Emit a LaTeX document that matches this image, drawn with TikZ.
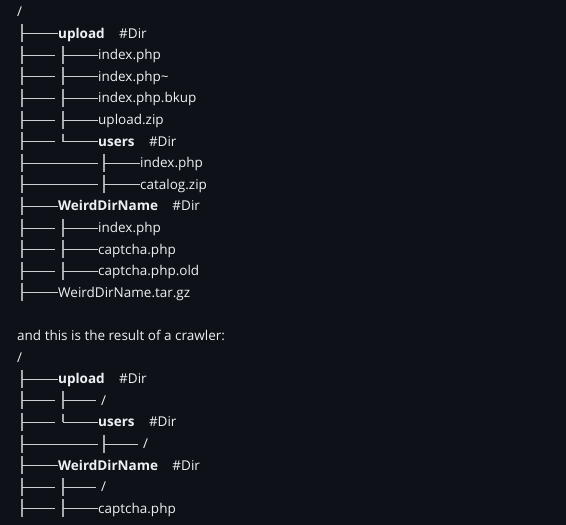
\documentclass[tikz,border=0pt]{standalone}
\usepackage{fontspec}
\setmainfont{Open Sans}
\usetikzlibrary{positioning}
\definecolor{pagebg}{HTML}{0E1117}
\definecolor{fg}{HTML}{EEF1F4}
\definecolor{tickgray}{HTML}{A5ABAF}
\definecolor{bargray}{HTML}{CBCFD3}
\tikzset{
  entry/.style={anchor=west, inner sep=0pt, text height=12pt, text depth=3pt, text=fg, font=\fontsize{13.5}{15}\selectfont},
  direntry/.style={entry, font=\fontsize{13.5}{15}\selectfont\bfseries},
  treetick/.style={draw=tickgray, line width=2pt},
  treebar/.style={draw=bargray, line width=1pt},
}
\newcommand{\ry}[1]{12+21.6*#1}

\begin{document}
\begin{tikzpicture}[x=1pt,y=-1pt]
\fill[pagebg] (0,0) rectangle (566,525);
\useasboundingbox (0,0) rectangle (566,525);

% outer ticks, one per tree row
\foreach \r in {1,2,3,4,5,6,7,8,9,10,11,12,13,17,18,19,20,21,22,23} {
	\draw[treetick] (21.5,{\ry{\r}-9.5}) -- (21.5,{\ry{\r}+8.5});
}
% second column ticks
\foreach \r in {2,3,4,5,10,11,12,18,22,23} {
	\draw[treetick] (63,{\ry{\r}-9.5}) -- (63,{\ry{\r}+8.5});
	\draw[treebar] (21.5,{\ry{\r}}) -- (55,{\ry{\r}});
}
\foreach \r in {6,19} {
	\draw[treetick] (63,{\ry{\r}-8}) -- (63,{\ry{\r}});
	\draw[treebar] (21.5,{\ry{\r}}) -- (55,{\ry{\r}});
}
% third column ticks
\foreach \r in {7,8,20} {
	\draw[treetick] (104,{\ry{\r}-9.5}) -- (104,{\ry{\r}+8.5});
	\draw[treebar] (21.5,{\ry{\r}}) -- (98,{\ry{\r}});
}

% the real tree
\node[entry] (root) at (17,{\ry{0}}) {/};
\node[direntry] (upload) at (58,{\ry{1}}) {upload};
\node[entry, right=14pt of upload] (uploadtag) {\#Dir};
\node[entry] (idx) at (98,{\ry{2}}) {index.php};
\node[entry] (idxtilde) at (98,{\ry{3}}) {index.php\char`~};
\node[entry] (idxbkup) at (98,{\ry{4}}) {index.php.bkup};
\node[entry] (uploadzip) at (98,{\ry{5}}) {upload.zip};
\node[direntry] (users) at (98,{\ry{6}}) {users};
\node[entry, right=14pt of users] (userstag) {\#Dir};
\node[entry] (usersidx) at (140,{\ry{7}}) {index.php};
\node[entry] (catalog) at (140,{\ry{8}}) {catalog.zip};
\node[direntry] (weird) at (58,{\ry{9}}) {WeirdDirName};
\node[entry, right=14pt of weird] (weirdtag) {\#Dir};
\node[entry] (weirdidx) at (98,{\ry{10}}) {index.php};
\node[entry] (captcha) at (98,{\ry{11}}) {captcha.php};
\node[entry] (captchaold) at (98,{\ry{12}}) {captcha.php.old};
\node[entry] (tarball) at (58,{\ry{13}}) {WeirdDirName.tar.gz};

\draw[treebar] (21.5,{\ry{1}}) -- (upload.west);
\draw[treebar] (63,{\ry{2}}) -- (idx.west);
\draw[treebar] (63,{\ry{3}}) -- (idxtilde.west);
\draw[treebar] (63,{\ry{4}}) -- (idxbkup.west);
\draw[treebar] (63,{\ry{5}}) -- (uploadzip.west);
\draw[treebar] (63,{\ry{6}}) -- (users.west);
\draw[treebar] (104,{\ry{7}}) -- (usersidx.west);
\draw[treebar] (104,{\ry{8}}) -- (catalog.west);
\draw[treebar] (21.5,{\ry{9}}) -- (weird.west);
\draw[treebar] (63,{\ry{10}}) -- (weirdidx.west);
\draw[treebar] (63,{\ry{11}}) -- (captcha.west);
\draw[treebar] (63,{\ry{12}}) -- (captchaold.west);
\draw[treebar] (21.5,{\ry{13}}) -- (tarball.west);

% what the crawler found
\node[entry] (note) at (17,{\ry{15}}) {and this is the result of a crawler:};
\node[entry] (croot) at (17,{\ry{16}}) {/};
\node[direntry] (cupload) at (58,{\ry{17}}) {upload};
\node[entry, right=14pt of cupload] (cuploadtag) {\#Dir};
\node[entry] (cslasha) at (101,{\ry{18}}) {/};
\node[direntry] (cusers) at (98,{\ry{19}}) {users};
\node[entry, right=14pt of cusers] (cuserstag) {\#Dir};
\node[entry] (cslashb) at (143,{\ry{20}}) {/};
\node[direntry] (cweird) at (58,{\ry{21}}) {WeirdDirName};
\node[entry, right=14pt of cweird] (cweirdtag) {\#Dir};
\node[entry] (cslashc) at (101,{\ry{22}}) {/};
\node[entry] (ccaptcha) at (98,{\ry{23}}) {captcha.php};

\draw[treebar] (21.5,{\ry{17}}) -- (cupload.west);
\draw[treebar] (63,{\ry{18}}) -- ([xshift=-5pt]cslasha.west);
\draw[treebar] (63,{\ry{19}}) -- (cusers.west);
\draw[treebar] (104,{\ry{20}}) -- ([xshift=-5pt]cslashb.west);
\draw[treebar] (21.5,{\ry{21}}) -- (cweird.west);
\draw[treebar] (63,{\ry{22}}) -- ([xshift=-5pt]cslashc.west);
\draw[treebar] (63,{\ry{23}}) -- (ccaptcha.west);
\end{tikzpicture}
\end{document}
